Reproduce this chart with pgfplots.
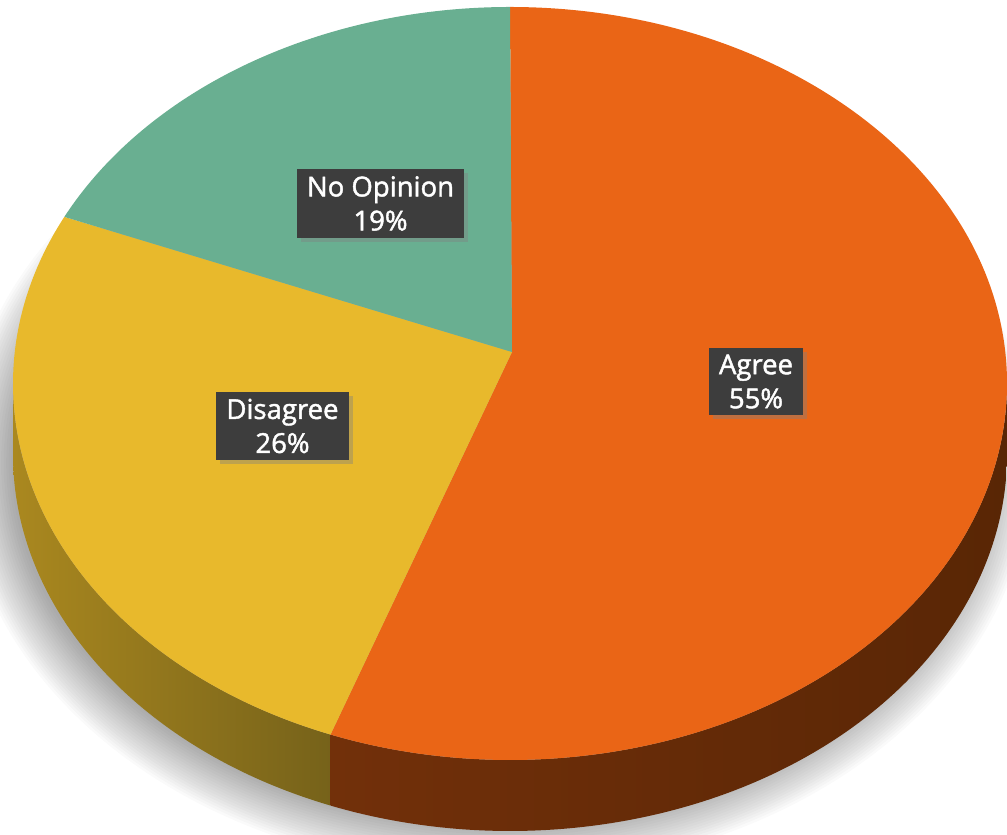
\documentclass[border=0pt]{standalone}
\usepackage{pgfplots}
\pgfplotsset{compat=1.18}
\usepackage{pgfplotstable}
\usepackage{fontspec}
\setmainfont{Open Sans}
\newfontfamily\lblfont{Open Sans}[FakeBold=1.6]
\usetikzlibrary{shadows}

\definecolor{agree}{HTML}{EA6516}
\definecolor{disagree}{HTML}{E8B92C}
\definecolor{noop}{HTML}{69AF91}
\definecolor{agreeside1}{HTML}{72300A}
\definecolor{agreeside2}{HTML}{592605}
\definecolor{disside1}{HTML}{AA881F}
\definecolor{disside2}{HTML}{76621A}
\definecolor{boxfill}{HTML}{3D3D3D}

\pgfplotstableread{
label value
Agree 55
Disagree 26
NoOpinion 19
}\piedata

\begin{document}
\begin{tikzpicture}
\begin{axis}[width=1007pt,height=835pt,scale only axis,
  xmin=0,xmax=1007,ymin=0,ymax=835,hide axis,clip=true]
\pgfplotstablegetelem{0}{value}\of\piedata \xdef\va{\pgfplotsretval}
\pgfplotstablegetelem{1}{value}\of\piedata \xdef\vb{\pgfplotsretval}
\pgfplotstablegetelem{2}{value}\of\piedata \xdef\vc{\pgfplotsretval}
% perspective warp of the pie angles (drawn clockwise from 12 o'clock)
\pgfmathsetmacro{\aA}{90-1.016*3.6*\va}
\pgfmathsetmacro{\aB}{\aA-1.016*3.6*\vb}
\pgfmathsetmacro{\aAf}{\aA+360}
\def\rx{497pt}\def\ry{376.5pt}
% shadow
\pgfplotsinvokeforeach{0,...,19}{
  \fill[black,opacity=0.02] (axis cs:497,372) ellipse[x radius={(535-#1*2.6)*1pt}, y radius={(410-#1*2.6)*1pt}];
}
% sides
\shade[left color=disside1,right color=disside2]
  (axis cs:{510+497*cos(180)},{451.5+376.5*sin(180)}) arc[start angle=180,end angle=\aAf,x radius=\rx,y radius=\ry]
  -- ++(0,-71) arc[start angle=\aAf,end angle=180,x radius=\rx,y radius=\ry] -- cycle;
\shade[left color=agreeside1,right color=agreeside2]
  (axis cs:{510+497*cos(\aA)},{451.5+376.5*sin(\aA)}) arc[start angle=\aA,end angle=0,x radius=\rx,y radius=\ry]
  -- ++(0,-71) arc[start angle=0,end angle=\aA,x radius=\rx,y radius=\ry] -- cycle;
% top wedges
\fill[agree] (axis cs:512,483) -- (axis cs:{510+497*cos(90)},{451.5+376.5*sin(90)})
  arc[start angle=90,end angle=\aA,x radius=\rx,y radius=\ry] -- cycle;
\fill[disagree] (axis cs:512,483) -- (axis cs:{510+497*cos(\aA)},{451.5+376.5*sin(\aA)})
  arc[start angle=\aA,end angle=\aB,x radius=\rx,y radius=\ry] -- cycle;
\fill[noop] (axis cs:512,483) -- (axis cs:{510+497*cos(\aB)},{451.5+376.5*sin(\aB)})
  arc[start angle=\aB,end angle=-270,x radius=\rx,y radius=\ry] -- cycle;
% labels
\tikzset{lbl/.style={fill=boxfill,text=white,align=center,font=\lblfont\fontsize{27.5}{34}\selectfont,
  inner xsep=10pt,inner ysep=7pt,
  drop shadow={opacity=0.4,shadow xshift=4pt,shadow yshift=-4pt}}}
\node[lbl] at (axis cs:380.5,631.5) {No Opinion\\\vc\%};
\node[lbl] at (axis cs:282.5,409) {Disagree\\\vb\%};
\node[lbl] at (axis cs:756,453.5) {Agree\\\va\%};
\end{axis}
\pgfresetboundingbox
\path[use as bounding box] (current axis.south west) rectangle (current axis.north east);
\end{tikzpicture}
\end{document}
